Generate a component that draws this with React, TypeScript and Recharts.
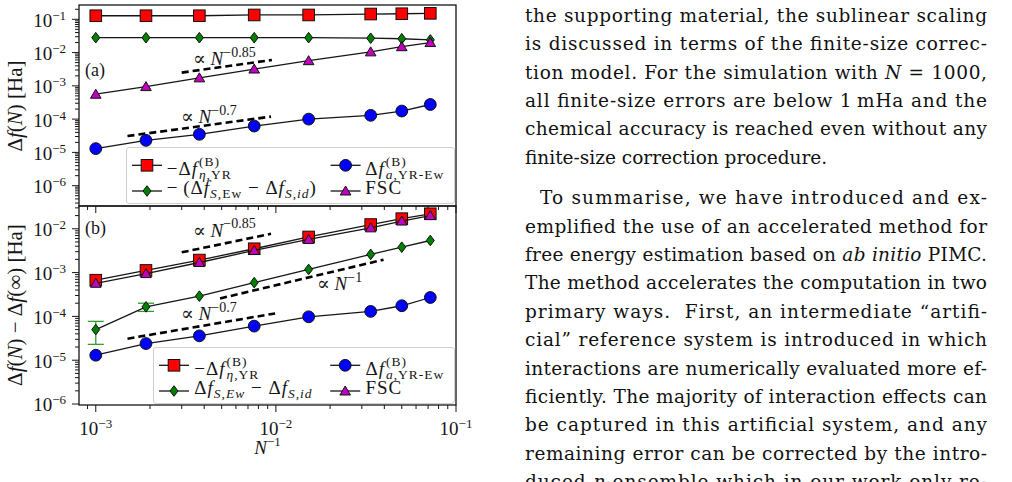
import React from "react";
import { ErrorBar, Scatter, ScatterChart, XAxis, YAxis } from "recharts";

const SERIF = "'Liberation Serif', 'DejaVu Serif', serif";
const BODY = "'DejaVu Serif', 'Liberation Serif', serif";
const INK = "#161616";

// 1/N of the eight simulations
const invN = [1.0e-3, 1.9e-3, 3.76e-3, 7.58e-3, 1.52e-2, 3.36e-2, 5.0e-2, 7.2e-2];

// panel (a)
const etaYrA = [0.128, 0.128, 0.128, 0.135, 0.135, 0.144, 0.147, 0.151];
const entropyA = [0.028, 0.028, 0.028, 0.028, 0.028, 0.027, 0.026, 0.024];
const fscA = [5.6e-4, 9.5e-4, 1.74e-3, 3.2e-3, 5.7e-3, 1.05e-2, 1.5e-2, 2.0e-2];
const ewaldA = [1.3e-5, 2.3e-5, 3.5e-5, 6.2e-5, 1.0e-4, 1.3e-4, 1.75e-4, 2.75e-4];

// panel (b)
const etaYrB = [6.7e-4, 1.12e-3, 1.93e-3, 3.5e-3, 6.5e-3, 1.25e-2, 1.7e-2, 2.2e-2];
const entropyB = [5.0e-5, 1.65e-4, 2.9e-4, 5.9e-4, 1.18e-3, 2.6e-3, 3.8e-3, 5.4e-3];
const entropyErrB = [2.7e-5, 3.5e-5];
const fscB = [5.7e-4, 9.5e-4, 1.7e-3, 3.2e-3, 5.7e-3, 1.05e-2, 1.5e-2, 2.0e-2];
const ewaldB = [1.3e-5, 2.4e-5, 3.6e-5, 6.0e-5, 9.8e-5, 1.3e-4, 1.75e-4, 2.7e-4];

// dashed power-law guides: start and end points
const guideAx085 = [3.0e-3, 9.5e-3];
const guideAy085 = [2.5e-3, 6.0e-3];
const guideAx07 = [1.5e-3, 9.4e-3];
const guideAy07 = [3.1e-5, 1.19e-4];
const guideBx085 = [3.0e-3, 9.4e-3];
const guideBy085 = [2.9e-3, 7.7e-3];
const guideBx1 = [4.9e-3, 3.96e-2];
const guideBy1 = [2.57e-4, 1.97e-3];
const guideBx07 = [1.5e-3, 9.9e-3];
const guideBy07 = [3.1e-5, 1.17e-4];

const xDomain = [8.07e-4, 0.1];
const yDomainA = [2.45e-7, 0.269];
const yDomainB = [9.5e-7, 0.0331];
const decades = [-7, -6, -5, -4, -3, -2, -1];
const mantissas = [1, 2, 3, 4, 5, 6, 7, 8, 9];

const logTicks = (lo: number, hi: number) =>
  decades
    .flatMap((d) => mantissas.map((m) => m * Math.pow(10, d)))
    .filter((v) => v >= lo && v <= hi);

const xTicks = logTicks(xDomain[0], xDomain[1] * 1.0001);
const yTicksA = logTicks(yDomainA[0], yDomainA[1]);
const yTicksB = logTicks(yDomainB[0], yDomainB[1]);

const toPoints = (xs: number[], ys: number[]) => xs.map((x, i) => ({ x, y: ys[i] }));
const errPoints = entropyErrB.map((err, i) => ({ x: invN[i], y: entropyB[i], err }));

const isMajor = (v: number) => Math.abs(Math.log10(v) - Math.round(Math.log10(v))) < 1e-6;

function XTick(props: any) {
  const { x, y, payload, labels } = props;
  const v = payload.value;
  const major = isMajor(v);
  const e = Math.round(Math.log10(v));
  return (
    <g>
      <line x1={x} x2={x} y1={y} y2={y + (major ? 7 : 4)} stroke={INK} strokeWidth={1} />
      {labels && major && (
        <text x={x} y={y + 30} textAnchor="middle" fontFamily={SERIF} fontSize={19} fill={INK}>
          10
          <tspan dy={-7.5} fontSize={13}>
            {"\u2212" + -e}
          </tspan>
        </text>
      )}
    </g>
  );
}

function YTick(props: any) {
  const { x, y, payload } = props;
  const v = payload.value;
  const major = isMajor(v);
  const e = Math.round(Math.log10(v));
  return (
    <g>
      <line x1={x - (major ? 7 : 4)} x2={x} y1={y} y2={y} stroke={INK} strokeWidth={1} />
      {major && (
        <text x={x - 13} y={y + 7.4} textAnchor="end" fontFamily={SERIF} fontSize={19} fill={INK}>
          10
          <tspan dy={-7} fontSize={13}>
            {"\u2212" + -e}
          </tspan>
        </text>
      )}
    </g>
  );
}

const Square = (p: any) => (
  <rect x={p.cx - 5.8} y={p.cy - 5.8} width={11.6} height={11.6} fill="#ff0000" stroke="#111" strokeWidth={1} />
);
const Circle = (p: any) => <circle cx={p.cx} cy={p.cy} r={5.9} fill="#0000ff" stroke="#111" strokeWidth={1} />;
const Diamond = (p: any) => (
  <polygon
    points={`${p.cx},${p.cy - 5.3} ${p.cx + 4},${p.cy} ${p.cx},${p.cy + 5.3} ${p.cx - 4},${p.cy}`}
    fill="#007f00"
    stroke="#111"
    strokeWidth={1}
  />
);
const Triangle = (p: any) => (
  <polygon
    points={`${p.cx},${p.cy - 5} ${p.cx + 5.3},${p.cy + 4} ${p.cx - 5.3},${p.cy + 4}`}
    fill="#bf00bf"
    stroke="#111"
    strokeWidth={1}
  />
);
const Nothing = () => <g />;

const seriesLine = { stroke: INK, strokeWidth: 1.3 };
const guideLine = { stroke: "#000", strokeWidth: 2.6, strokeDasharray: "7 4" };

function Scripts({ sup, sub }: { sup: React.ReactNode; sub: React.ReactNode }) {
  return (
    <span style={{ display: "inline-block", verticalAlign: -3.5, fontSize: 13.5, lineHeight: "13px", marginLeft: 1 }}>
      <span style={{ display: "block" }}>{sup}</span>
      <span style={{ display: "block" }}>{sub}</span>
    </span>
  );
}

function Sub({ children }: { children: React.ReactNode }) {
  return <span style={{ fontSize: 13.5, verticalAlign: -4 }}>{children}</span>;
}

function MathText({ x, baseline, size = 19, children }: any) {
  const lh = 40;
  const top = baseline - ((lh - 1.107 * size) / 2 + 0.891 * size);
  return (
    <div
      style={{
        position: "absolute",
        left: x,
        top,
        lineHeight: `${lh}px`,
        fontSize: size,
        fontFamily: SERIF,
        whiteSpace: "nowrap",
        color: INK,
        letterSpacing: 1,
      }}
    >
      {children}
    </div>
  );
}

function Marker({ kind, x, y }: { kind: string; x: number; y: number }) {
  const p = { cx: x, cy: y };
  return (
    <g>
      <line x1={x - 15} x2={x + 15} y1={y} y2={y} stroke={INK} strokeWidth={1.3} />
      {kind === "square" && Square(p)}
      {kind === "circle" && Circle(p)}
      {kind === "diamond" && Diamond(p)}
      {kind === "triangle" && Triangle(p)}
    </g>
  );
}

function LegendBox({ left, top, width, col2, entries }: any) {
  const rows = [18.3, 44];
  const baselines = [27.8, 47];
  const cols = [6, col2];
  return (
    <div
      style={{
        position: "absolute",
        left,
        top,
        width,
        height: 57,
        boxSizing: "border-box",
        border: "1px solid #d0d0d0",
        borderRadius: 3,
        background: "rgba(255,255,255,0.82)",
      }}
    >
      <svg width={width} height={57} style={{ position: "absolute", left: -1, top: -1 }}>
        {entries.map((en: any, i: number) => (
          <Marker key={i} kind={en.kind} x={cols[i % 2] + 15} y={rows[Math.floor(i / 2)]} />
        ))}
      </svg>
      {entries.map((en: any, i: number) => (
        <MathText key={i} x={cols[i % 2] + 34} baseline={baselines[Math.floor(i / 2)]}>
          {en.label}
        </MathText>
      ))}
    </div>
  );
}

const etaLabel = (
  <>
    −Δ<i>f</i>
    <Scripts sup="(B)" sub={<><i>η</i>,YR</>} />
  </>
);
const ewaldLabel = (
  <>
    Δ<i>f</i>
    <Scripts sup="(B)" sub={<><i>a</i>,YR-Ew</>} />
  </>
);

function Annot({ x, y, exp }: { x: number; y: number; exp: string }) {
  return (
    <text x={x} y={y} fontFamily={SERIF} fontSize={19} fill={INK}>
      ∝ <tspan fontStyle="italic">N</tspan>
      <tspan dy={-8.5} fontSize={14}>
        {exp}
      </tspan>
    </text>
  );
}

// right-hand text column, one entry per printed line
const bodyLines: (string | { it: string })[][] = [
  ["the supporting material, the sublinear scaling"],
  ["is discussed in terms of the finite-size correc-"],
  ["tion model. For the simulation with ", { it: "N" }, "\u2004=\u20041000,"],
  ["all finite-size errors are below 1\u2009mHa and the"],
  ["chemical accuracy is reached even without any"],
  ["finite-size correction procedure."],
  ["To summarise, we have introduced and ex-"],
  ["emplified the use of an accelerated method for"],
  ["free energy estimation based on ", { it: "ab initio" }, " PIMC."],
  ["The method accelerates the computation in two"],
  ["primary ways.  First, an intermediate \u201cartifi-"],
  ["cial\u201d reference system is introduced in which"],
  ["interactions are numerically evaluated more ef-"],
  ["ficiently. The majority of interaction effects can"],
  ["be captured in this artificial system, and any"],
  ["remaining error can be corrected by the intro-"],
  ["duced ", { it: "η" }, "-ensemble which in our work only re-"],
];

export default function App() {
  const axisCommon = {
    type: "number" as const,
    scale: "log" as const,
    allowDataOverflow: true,
    interval: 0 as const,
    tickSize: 0,
    tickMargin: 0,
    tickLine: false,
    axisLine: false,
  };

  return (
    <div
      style={{
        position: "absolute",
        left: 0,
        top: 0,
        width: 1012,
        height: 482,
        background: "#fff",
        overflow: "hidden",
        fontFamily: SERIF,
      }}
    >
      {/* panel (a) */}
      <div style={{ position: "absolute", left: 0, top: 0 }}>
        <ScatterChart width={480} height={218} margin={{ top: 5, right: 24, bottom: 0, left: 0 }}>
          <XAxis dataKey="x" {...axisCommon} domain={xDomain} ticks={xTicks} height={12} tick={(p: any) => <XTick {...p} />} />
          <YAxis dataKey="y" {...axisCommon} domain={yDomainA} ticks={yTicksA} width={79} tick={(p: any) => <YTick {...p} />} />
          <Scatter data={toPoints(guideAx085, guideAy085)} line={guideLine} shape={Nothing} isAnimationActive={false} />
          <Scatter data={toPoints(guideAx07, guideAy07)} line={guideLine} shape={Nothing} isAnimationActive={false} />
          <Scatter data={toPoints(invN, etaYrA)} line={seriesLine} shape={Square} isAnimationActive={false} />
          <Scatter data={toPoints(invN, ewaldA)} line={seriesLine} shape={Circle} isAnimationActive={false} />
          <Scatter data={toPoints(invN, entropyA)} line={seriesLine} shape={Diamond} isAnimationActive={false} />
          <Scatter data={toPoints(invN, fscA)} line={seriesLine} shape={Triangle} isAnimationActive={false} />
        </ScatterChart>
      </div>

      {/* panel (b) */}
      <div style={{ position: "absolute", left: 0, top: 206 }}>
        <ScatterChart width={480} height={259} margin={{ top: 0, right: 24, bottom: 0, left: 0 }}>
          <XAxis dataKey="x" {...axisCommon} domain={xDomain} ticks={xTicks} height={60} tick={(p: any) => <XTick {...p} labels />} />
          <YAxis dataKey="y" {...axisCommon} domain={yDomainB} ticks={yTicksB} width={79} tick={(p: any) => <YTick {...p} />} />
          <Scatter data={toPoints(guideBx085, guideBy085)} line={guideLine} shape={Nothing} isAnimationActive={false} />
          <Scatter data={toPoints(guideBx1, guideBy1)} line={guideLine} shape={Nothing} isAnimationActive={false} />
          <Scatter data={toPoints(guideBx07, guideBy07)} line={guideLine} shape={Nothing} isAnimationActive={false} />
          <Scatter data={toPoints(invN, etaYrB)} line={seriesLine} shape={Square} isAnimationActive={false} />
          <Scatter data={toPoints(invN, ewaldB)} line={seriesLine} shape={Circle} isAnimationActive={false} />
          <Scatter data={errPoints} shape={Nothing} isAnimationActive={false}>
            <ErrorBar dataKey="err" direction="y" width={8} stroke="#2e9e2e" strokeWidth={1.3} isAnimationActive={false} />
          </Scatter>
          <Scatter data={toPoints(invN, entropyB)} line={seriesLine} shape={Diamond} isAnimationActive={false} />
          <Scatter data={toPoints(invN, fscB)} line={seriesLine} shape={Triangle} isAnimationActive={false} />
        </ScatterChart>
      </div>

      {/* frames, annotations and axis titles */}
      <svg width={480} height={482} style={{ position: "absolute", left: 0, top: 0 }}>
        <rect x={79} y={5} width={377} height={201} fill="none" stroke={INK} strokeWidth={1.3} />
        <rect x={79} y={206} width={377} height={199} fill="none" stroke={INK} strokeWidth={1.3} />
        <text x={85} y={76} fontFamily={SERIF} fontSize={18} fill={INK}>(a)</text>
        <text x={85} y={234} fontFamily={SERIF} fontSize={18} fill={INK}>(b)</text>
        <Annot x={193} y={65} exp={"\u22120.85"} />
        <Annot x={181} y={123} exp={"\u22120.7"} />
        <Annot x={193} y={236.5} exp={"\u22120.85"} />
        <Annot x={317} y={290} exp={"\u22121"} />
        <Annot x={181} y={320} exp={"\u22120.7"} />
        <text transform="translate(22,106) rotate(-90)" textAnchor="middle" fontFamily={SERIF} fontSize={21} fill={INK}>
          Δ<tspan fontStyle="italic">f</tspan>(<tspan fontStyle="italic">N</tspan>) [Ha]
        </text>
        <text transform="translate(22,305) rotate(-90)" textAnchor="middle" fontFamily={SERIF} fontSize={21} fill={INK}>
          Δ<tspan fontStyle="italic">f</tspan>(<tspan fontStyle="italic">N</tspan>) − Δ<tspan fontStyle="italic">f</tspan>(∞) [Ha]
        </text>
        <text x={267.5} y={454} textAnchor="middle" fontFamily={SERIF} fontSize={19} fill={INK}>
          <tspan fontStyle="italic">N</tspan>
          <tspan dy={-8} fontSize={13}>−1</tspan>
        </text>
      </svg>

      <LegendBox
        left={125.7}
        top={146.7}
        width={329.5}
        col2={204.6}
        entries={[
          { kind: "square", label: etaLabel },
          { kind: "circle", label: ewaldLabel },
          {
            kind: "diamond",
            label: (
              <>
                −{"\u2009"}(Δ<i>f</i>
                <Sub>
                  <i>S</i>,Ew
                </Sub>{" "}
                − Δ<i>f</i>
                <Sub>
                  <i>S</i>,<i>id</i>
                </Sub>
                )
              </>
            ),
          },
          { kind: "triangle", label: "FSC" },
        ]}
      />
      <LegendBox
        left={153.3}
        top={346.7}
        width={302}
        col2={177.2}
        entries={[
          { kind: "square", label: etaLabel },
          { kind: "circle", label: ewaldLabel },
          {
            kind: "diamond",
            label: (
              <>
                Δ<i>f</i>
                <Sub>
                  <i>S</i>,<i>Ew</i>
                </Sub>{" "}
                − Δ<i>f</i>
                <Sub>
                  <i>S</i>,<i>id</i>
                </Sub>
              </>
            ),
          },
          { kind: "triangle", label: "FSC" },
        ]}
      />

      {/* body text column */}
      <svg width={1012} height={482} style={{ position: "absolute", left: 0, top: 0 }}>
        {bodyLines.map((parts, i) => {
          const center = 17 + 28.4 * i + (i >= 6 ? 12 : 0);
          const indent = i === 6 ? 15 : 0;
          const justify = i !== 5;
          return (
            <text
              key={i}
              x={525 + indent}
              y={center + 4.8}
              fontFamily={BODY}
              fontSize={18.5}
              fill="#111"
              textLength={justify ? 462 - indent : undefined}
              lengthAdjust="spacing"
              xmlSpace="preserve"
            >
              {parts.map((p, j) =>
                typeof p === "string" ? (
                  <tspan key={j}>{p}</tspan>
                ) : (
                  <tspan key={j} fontStyle="italic">
                    {p.it}
                  </tspan>
                )
              )}
            </text>
          );
        })}
      </svg>
    </div>
  );
}
